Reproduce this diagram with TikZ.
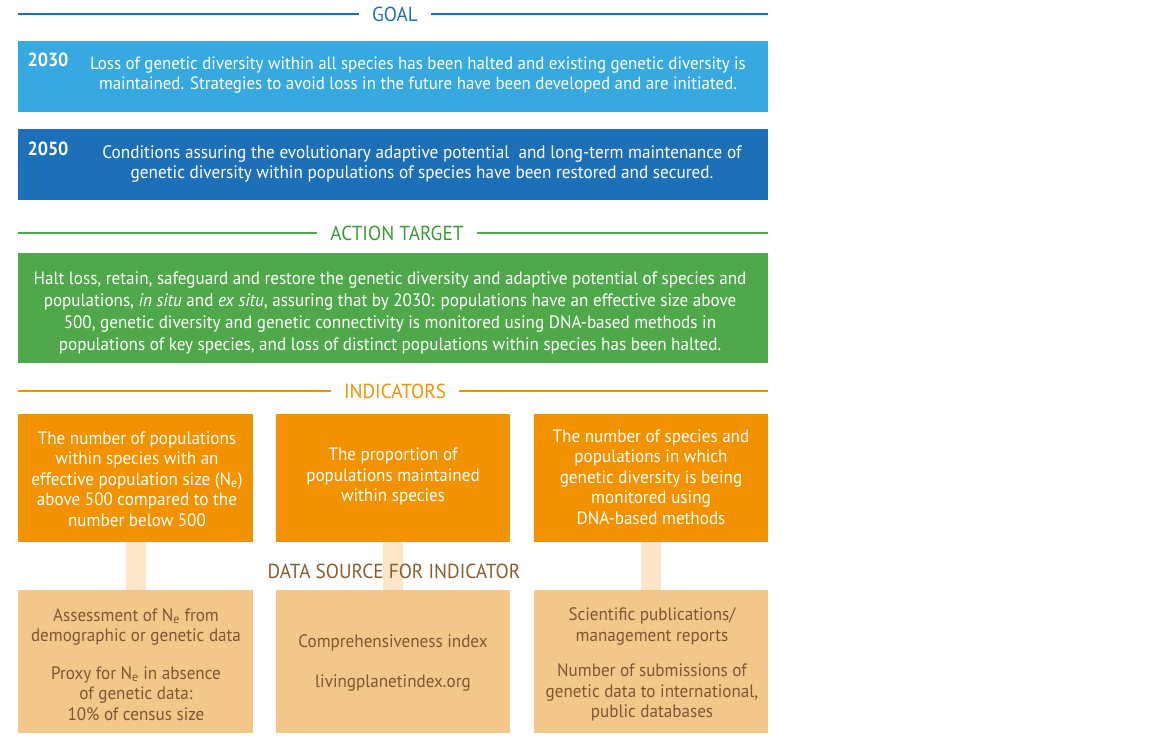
\documentclass[tikz,border=0pt]{standalone}
\usepackage{fontspec}
\setmainfont{PT Sans}[FakeStretch=0.95]
\definecolor{goalblue}{HTML}{1D70B7}
\definecolor{lightblue}{HTML}{36A9E1}
\definecolor{actgreen}{HTML}{4FA84A}
\definecolor{actgreentext}{HTML}{3A9A35}
\definecolor{indorange}{HTML}{F39200}
\definecolor{srcfill}{HTML}{F3C78A}
\definecolor{barfill}{HTML}{FDE6C6}
\definecolor{srctext}{HTML}{7E5733}
\definecolor{dshead}{HTML}{8A5C30}
\begin{document}
\begin{tikzpicture}[x=1pt,y=-1pt,
  panel/.style={rectangle, inner sep=0pt, draw=none},
  hdr/.style={inner xsep=13pt, inner ysep=0pt, font=\fontsize{20.3}{22}\selectfont},
  rulefmt/.style={line width=1.3pt},
  body/.style={align=center, text=white, inner sep=0pt, font=\fontsize{17.8}{20}\selectfont},
  indbody/.style={align=center, text=white, inner sep=0pt, font=\fontsize{18}{20.5}\selectfont},
  yearlbl/.style={text=white, inner sep=0pt, font=\fontsize{19}{20}\selectfont\bfseries},
  srcbody/.style={align=center, text=srctext, inner sep=0pt, font=\fontsize{18}{20.5}\selectfont},
  linkbar/.style={line width=20pt, draw=barfill}
]
\useasboundingbox (0,0) rectangle (1152,742);

% ---------- GOAL ----------
\coordinate (gl) at (18,14);
\coordinate (gr) at (768,14);
\node[hdr, text=goalblue] (goal) at (395,14) {GOAL};
\draw[rulefmt, goalblue] (gl) -- (goal.west);
\draw[rulefmt, goalblue] (goal.east) -- (gr);

\node[panel, fill=lightblue, minimum width=750pt, minimum height=71pt] (b2030) at (393,76.5) {};
\node[yearlbl] (y2030) at (48,60) {2030};
\node[body] (t2030) at (418,75) {Loss of genetic diversity within all species has been halted and existing genetic diversity is\\ maintained. Strategies to avoid loss in the future have been developed and are initiated.};

\node[panel, fill=goalblue, minimum width=750pt, minimum height=71pt] (b2050) at (393,164.5) {};
\node[yearlbl] (y2050) at (48,149) {2050};
\node[body, font=\fontsize{18.1}{20}\selectfont] (t2050) at (422,163.5) {Conditions assuring the evolutionary adaptive potential\ \ and long-term maintenance of\\ genetic diversity within populations of species have been restored and secured.};

% ---------- ACTION TARGET ----------
\coordinate (al) at (18,233);
\coordinate (ar) at (768,233);
\node[hdr, text=actgreentext] (act) at (397,233) {ACTION TARGET};
\draw[rulefmt, actgreen] (al) -- (act.west);
\draw[rulefmt, actgreen] (act.east) -- (ar);

\node[panel, fill=actgreen, minimum width=750pt, minimum height=110pt] (target) at (393,308) {};
\node[body, font=\fontsize{18}{21.7}\selectfont] (ttarget) at (390,313) {Halt loss, retain, safeguard and restore the genetic diversity and adaptive potential of species and\\ populations, \textit{in situ} and \textit{ex situ}, assuring that by 2030: populations have an effective size above\\ 500, genetic diversity and genetic connectivity is monitored using DNA-based methods in\\ populations of key species, and loss of distinct populations within species has been halted.};

% ---------- INDICATORS ----------
\coordinate (il) at (18,391);
\coordinate (ir) at (768,391);
\node[hdr, text=indorange] (ind) at (395,391) {INDICATORS};
\draw[rulefmt, indorange] (il) -- (ind.west);
\draw[rulefmt, indorange] (ind.east) -- (ir);

\node[panel, fill=indorange, minimum width=235pt, minimum height=128pt] (i1) at (135.5,478) {};
\node[panel, fill=indorange, minimum width=234pt, minimum height=128pt] (i2) at (393,478) {};
\node[panel, fill=indorange, minimum width=234pt, minimum height=128pt] (i3) at (651,478) {};

\node[panel, fill=srcfill, minimum width=235pt, minimum height=143pt] (s1) at (135.5,661.5) {};
\node[panel, fill=srcfill, minimum width=234pt, minimum height=143pt] (s2) at (393,661.5) {};
\node[panel, fill=srcfill, minimum width=234pt, minimum height=143pt] (s3) at (651,661.5) {};

% links
\draw[linkbar] (i1.south) -- (s1.north);
\draw[linkbar] (i2.south) -- (s2.north);
\draw[linkbar] (i3.south) -- (s3.north);

\node[indbody] (ti1) at (137,479) {The number of populations\\ within species with an\\ effective population size (N\textsubscript{e})\\ above 500 compared to the\\ number below 500};
\node[indbody] (ti2) at (393,476.5) {The proportion of\\ populations maintained\\ within species};
\node[indbody] (ti3) at (651,477) {The number of species and\\ populations in which\\ genetic diversity is being\\ monitored using\\ DNA-based methods};

\node[inner sep=0pt, text=dshead, font=\fontsize{20.3}{22}\selectfont] (dsh) at (394,571) {DATA SOURCE FOR INDICATOR};

\node[srcbody] (ts1) at (136,664.5) {Assessment of N\textsubscript{e} from\\ demographic or genetic data\\[17pt] Proxy for N\textsubscript{e} in absence\\ of genetic data:\\ 10\% of census size};
\node[srcbody] (ts2) at (393,663) {Comprehensiveness index\\[20pt] livingplanetindex.org};
\node[srcbody] (ts3) at (652,664.5) {Scientific publications/\\ management reports\\[15pt] Number of submissions of\\ genetic data to international,\\ public databases};
\end{tikzpicture}
\end{document}
